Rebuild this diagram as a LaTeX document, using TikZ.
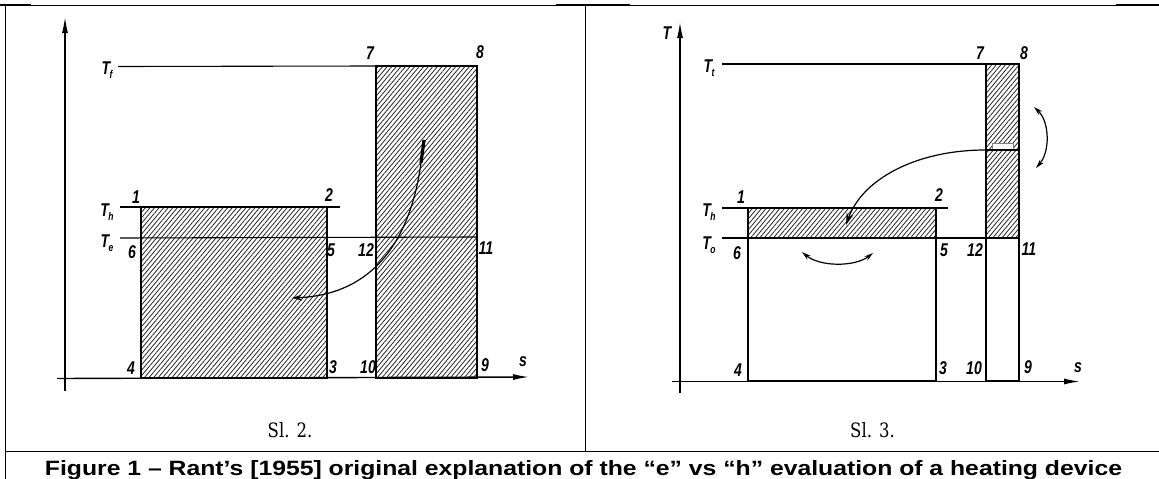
\documentclass[tikz,border=0pt]{standalone}
\usepackage{fontspec}
\usepackage{graphicx}
\newfontfamily\capfont{Liberation Sans}
\newfontfamily\subfont{DejaVu Serif}
\usetikzlibrary{arrows.meta,patterns.meta}
\newcommand\mylab[1]{\scalebox{0.85}[1.12]{\capfont\bfseries\itshape #1}}
\newcommand\myT[1]{\scalebox{0.85}[1.12]{\capfont\bfseries\itshape T\kern-0.5pt\raisebox{-3.5pt}{\fontsize{10}{10}\selectfont #1}}}
\begin{document}
\begin{tikzpicture}[x=1pt,y=-1pt,
  frame/.style={line width=1pt,black},
  framethick/.style={line width=2.2pt,black},
  boxline/.style={line width=2pt,line join=miter,line cap=rect},
  refline/.style={line width=1.1pt},
  axisline/.style={line width=1.4pt,-{Latex[length=16pt,width=6pt]}},
  hatch/.style={pattern={Lines[angle=50,distance=3.5pt,line width=0.8pt]},pattern color=black!85},
  lab/.style={inner sep=0pt,font=\fontsize{16.5}{16.5}\selectfont},
  arr/.style={line width=1.2pt},
  subcap/.style={inner sep=0pt,font=\subfont\fontsize{16.5}{16.5}\selectfont}
]
\useasboundingbox (0,0) rectangle (1159,479);
\fill[white] (0,0) rectangle (1159,479);

% ---------- frame ----------
\draw[frame] (0,5) -- (1159,5);
\draw[framethick] (0,5) -- (31,5);
\draw[framethick] (556,5) -- (630,5);
\draw[framethick] (1116,5) -- (1159,5);
\draw[frame] (5,5) -- (5,479);
\draw[frame] (585,5) -- (585,451);
\draw[frame] (5,451) -- (1159,451);

% ---------- left panel (Sl. 2.) ----------
\coordinate (L1) at (141,207);
\coordinate (L3) at (327,378);
\coordinate (L7) at (375.5,66);
\coordinate (L9) at (477,378);
\fill[hatch] (L1) rectangle (L3);
\fill[hatch] (L7) rectangle (L9);
\draw[refline] (118,66.5) -- (L7);
\draw[refline] (120,207) -- (340,207);
\draw[refline] (120,238) -- (477,237);
\draw[boxline] (L1) rectangle (L3);
\draw[boxline] (L7) rectangle (L9);
\draw[axisline] (65,391) -- (65,17);
\draw[axisline] (57,378.5) -- (529,377);

\coordinate (LA) at (424,140);
\coordinate (LB) at (421,163);
\coordinate (LC) at (292,298);
\draw[line width=3.2pt] (LA) -- (LB);
\draw[arr,-{Stealth[length=10pt,width=6pt]}] (LB) .. controls (412,228) and (382,294) .. (LC);

\node[lab] (lTf) at (107,70) {\myT{f}};
\node[lab] (lTh) at (107,212) {\myT{h}};
\node[lab] (lTe) at (107,243) {\myT{e}};
\node[lab] (l7) at (370,53) {\mylab{7}};
\node[lab] (l8) at (480,52) {\mylab{8}};
\node[lab] (l1) at (136,197) {\mylab{1}};
\node[lab] (l2) at (329,195) {\mylab{2}};
\node[lab] (l6) at (132,252) {\mylab{6}};
\node[lab] (l5) at (331,250) {\mylab{5}};
\node[lab] (l12) at (366,250) {\mylab{12}};
\node[lab] (l11) at (486,248) {\mylab{11}};
\node[lab] (l4) at (131,368) {\mylab{4}};
\node[lab] (l3) at (333,367) {\mylab{3}};
\node[lab] (l10) at (368,367) {\mylab{10}};
\node[lab] (l9) at (485,365) {\mylab{9}};
\node[lab] (ls) at (523,362) {\mylab{s}};
\node[subcap] (sl2) at (290,430) {\scalebox{1}[1.2]{Sl. 2.}};

% ---------- right panel (Sl. 3.) ----------
\coordinate (R1) at (747.5,208);
\coordinate (R5) at (935.5,238);
\coordinate (R3) at (935.5,381);
\coordinate (R7) at (985.5,64);
\coordinate (R11) at (1019,238);
\coordinate (R9) at (1019,381);
\fill[hatch] (R1) rectangle (R5);
\fill[hatch] (R7) rectangle (R11);
\fill[white] (992,143) rectangle (1013,149);
\draw[gray,line width=0.8pt] (992,143) rectangle (1013,149);
\draw[refline] (722,64) -- (R7);
\draw[refline] (722,208) -- (948,208);
\draw[refline] (722,238) -- (R11);
\draw[boxline] (R1) rectangle (R3);
\draw[boxline] (747.5,238) -- (R5);
\draw[boxline] (R7) rectangle (R9);
\draw[boxline] (985.5,238) -- (R11);
\coordinate (RS) at (985.5,150);
\draw[refline] (RS) -- (1019,150);
\draw[axisline] (680,393) -- (680,22);
\draw[axisline] (672,381.5) -- (1080,381.5);

\coordinate (RE) at (846,225);
\draw[arr,-{Stealth[length=12pt,width=7pt]}] (RS) .. controls (915,150) and (862,180) .. (RE);
\coordinate (RA1) at (1034,107);
\coordinate (RA2) at (1036,168);
\draw[arr,{Stealth[length=9pt,width=5pt]}-{Stealth[length=9pt,width=5pt]}] (RA1) .. controls (1050,122) and (1050,152) .. (RA2);
\coordinate (RB1) at (802,252);
\coordinate (RB2) at (873,253);
\draw[arr,{Stealth[length=9pt,width=5pt]}-{Stealth[length=9pt,width=5pt]}] (RB1) .. controls (820,267) and (855,267) .. (RB2);

\node[lab] (rT) at (667,33) {\mylab{T}};
\node[lab] (rTf) at (709,68) {\myT{t}};
\node[lab] (rTh) at (709,212) {\myT{h}};
\node[lab] (rTe) at (709,245) {\myT{o}};
\node[lab] (r7) at (980,53) {\mylab{7}};
\node[lab] (r8) at (1024,53) {\mylab{8}};
\node[lab] (r1) at (741,197) {\mylab{1}};
\node[lab] (r2) at (939,195) {\mylab{2}};
\node[lab] (r6) at (737,253) {\mylab{6}};
\node[lab] (r5) at (944,250) {\mylab{5}};
\node[lab] (r12) at (975,250) {\mylab{12}};
\node[lab] (r11) at (1029,249) {\mylab{11}};
\node[lab] (r4) at (738,370) {\mylab{4}};
\node[lab] (r3) at (943,368) {\mylab{3}};
\node[lab] (r10) at (974,368) {\mylab{10}};
\node[lab] (r9) at (1028,367) {\mylab{9}};
\node[lab] (rs) at (1078,368) {\mylab{s}};
\node[subcap] (sl3) at (872.5,430) {\scalebox{1}[1.2]{Sl. 3.}};

% ---------- caption ----------
\node[anchor=base,inner sep=0pt] (cap) at (583.5,475)
  {\resizebox{1077pt}{1.12\height}{\capfont\bfseries\fontsize{18.5}{18.5}\selectfont Figure 1 – Rant’s [1955] original explanation of the “e” vs “h” evaluation of a heating device}};
\end{tikzpicture}
\end{document}
